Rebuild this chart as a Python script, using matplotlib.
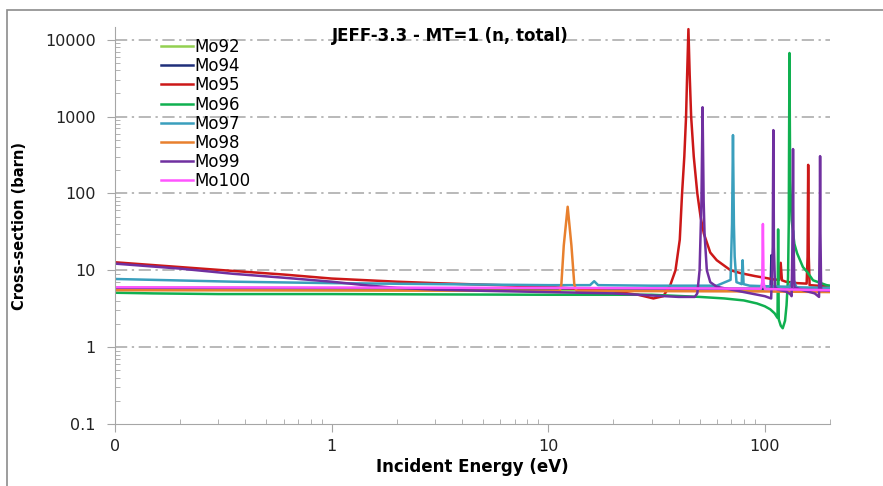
import matplotlib
matplotlib.use("Agg")
import matplotlib.pyplot as plt
from matplotlib.patches import Rectangle
from matplotlib.ticker import NullFormatter

# %% values -------------------------------------------------------------------
isotopes = ["Mo92", "Mo94", "Mo95", "Mo96", "Mo97", "Mo98", "Mo99", "Mo100"]
colors = ["#92d050", "#1f2f7a", "#cc1818", "#10b050", "#3a9fbd", "#e8802e", "#7030a0", "#ff55ff"]

e_mo92 = [0.1, 1, 10, 100, 200]
xs_mo92 = [5.6, 5.55, 5.5, 5.5, 5.6]

e_mo94 = [0.1, 1, 10, 100, 106.3, 107.3, 108.3, 200]
xs_mo94 = [5.9, 5.85, 5.8, 5.75, 5.75, 15.7, 5.75, 5.6]

e_mo95 = [0.1, 0.2, 0.35, 0.6, 1, 2, 3, 5, 10, 20, 26, 30.6, 34, 36.6, 38.7,
          40.5, 41.5, 42.5, 43.3, 43.8, 44.4, 45.0, 45.7, 47, 48.8, 50.5, 52.3,
          56, 60, 69.5, 77, 90, 102, 110, 116.5, 118.4, 120, 125, 141, 156,
          157.6, 158.6, 159.6, 161, 175, 200]
xs_mo95 = [12.7, 11.0, 9.8, 8.8, 7.8, 7.1, 6.8, 6.5, 6.1, 5.3, 4.8, 4.3, 4.6, 6.4, 10,
           25, 100, 300, 1000, 3500, 13700, 3500, 1000, 300, 100, 50, 30,
           17, 13.5, 10, 9.2, 8.4, 7.9, 7.6, 7.5, 12.5, 7.4, 7.1, 6.8, 6.7,
           15, 235, 15, 6.4, 6.3, 6.2]

e_mo96 = [0.1, 0.15, 0.3, 1, 3, 10, 30, 50, 65, 80, 92, 100, 106, 111, 114.5,
          115.2, 116, 118.5, 121, 124, 126, 128, 129, 129.5, 130, 130.5, 131,
          133, 137, 141, 150, 157, 167, 193, 200]
xs_mo96 = [5.1, 5.0, 4.9, 4.9, 4.85, 4.8, 4.8, 4.5, 4.3, 4.05, 3.7, 3.4, 3.1, 2.75, 2.4,
           34, 2.3, 1.9, 1.76, 2.2, 3.5, 8, 40, 600, 6700, 800, 150,
           45, 22, 16.6, 11, 9.5, 7.4, 6.4, 6.3]

e_mo97 = [0.1, 0.35, 1, 3, 10, 15.6, 16.3, 17.0, 30, 60, 69.5, 70.6, 71.3, 72.0,
          72.6, 74, 78.2, 79.0, 79.8, 85, 100, 130, 134.2, 135, 135.8, 140, 200]
xs_mo97 = [7.7, 7.1, 6.8, 6.6, 6.4, 6.4, 7.2, 6.4, 6.3, 6.3, 7.5, 40, 573, 40,
           15, 7.0, 6.6, 13.5, 6.6, 6.3, 6.2, 6.1, 7.5, 33, 7.5, 6.0, 5.9]

e_mo98 = [0.1, 1, 10, 11.3, 11.5, 11.8, 12.3, 12.8, 13.2, 13.5, 30, 100, 200]
xs_mo98 = [5.5, 5.45, 5.4, 5.4, 6.5, 21, 67, 21, 6.5, 5.4, 5.35, 5.3, 5.2]

e_mo99 = [0.1, 0.2, 0.35, 0.6, 1, 1.5, 2, 3, 5, 10, 20, 30, 40, 47.5, 48.8, 50,
          51, 51.6, 52.2, 52.7, 54, 56, 60, 80, 100, 107, 108.8, 109.5, 110.2,
          111.5, 115, 125, 131, 133, 134.4, 135, 135.6, 137, 150, 170, 178,
          179.3, 180, 180.7, 182, 200]
xs_mo99 = [12.2, 10.5, 9.0, 8.0, 7.1, 6.3, 5.9, 5.6, 5.4, 5.2, 5.0, 4.7, 4.5, 4.5, 5.0, 10,
           80, 1320, 80, 30, 10, 7, 6.1, 5.2, 4.6, 4.3, 20, 665, 20,
           6.0, 5.6, 5.3, 4.9, 4.6, 30, 377, 30, 6.0, 5.5, 5.0, 4.5,
           30, 305, 30, 5.5, 5.4]

e_mo100 = [0.1, 1, 10, 50, 96, 97.3, 98.0, 98.7, 100, 200]
xs_mo100 = [6.0, 5.95, 5.9, 5.8, 5.75, 7, 40, 7, 5.7, 5.5]

energies = [e_mo92, e_mo94, e_mo95, e_mo96, e_mo97, e_mo98, e_mo99, e_mo100]
sigmas = [xs_mo92, xs_mo94, xs_mo95, xs_mo96, xs_mo97, xs_mo98, xs_mo99, xs_mo100]

x_ticks = [0.1, 1, 10, 100]
x_labels = ["0", "1", "10", "100"]
y_ticks = [0.1, 1, 10, 100, 1000, 10000]
y_labels = ["0.1", "1", "10", "100", "1000", "10000"]

# %% figure ---------------------------------------------------------------------
plt.rcParams["font.family"] = ["DejaVu Sans"]
W, H = 883, 486
fig = plt.figure(figsize=(W / 100, H / 100), dpi=100)
ax = fig.add_axes([115 / W, 1 - 424 / H, (830 - 115) / W, (424 - 27) / H])

# grey frame of the chart area (cut off by the image at right/bottom)
fig.add_artist(Rectangle((7 / W, -1), 2, 1 + (1 - 10 / H), transform=fig.transFigure,
                         fill=False, ec="#8c8c8c", lw=1.2))

for name, col, e, s in zip(isotopes, colors, energies, sigmas):
    ax.plot(e, s, color=col, lw=1.8, label=name)

ax.set_xscale("log")
ax.set_yscale("log")
ax.set_xlim(0.1, 200)
ax.set_ylim(0.1, 14600)
ax.set_xticks(x_ticks, labels=x_labels)
ax.set_yticks(y_ticks, labels=y_labels)
ax.xaxis.set_minor_formatter(NullFormatter())
ax.yaxis.set_minor_formatter(NullFormatter())

grey = "#a6a6a6"
ax.yaxis.grid(True, which="major", color=grey, lw=1.1, linestyle=(0, (8, 3, 1.5, 3)))
ax.get_ygridlines()[0].set_visible(False)  # bottom one sits on the axis line
ax.set_axisbelow(True)
for sp in ["top", "right"]:
    ax.spines[sp].set_visible(False)
for sp in ["left", "bottom"]:
    ax.spines[sp].set_color(grey)
ax.tick_params(which="major", direction="out", length=6, color=grey, labelsize=11.5,
               labelcolor="#222222")
ax.tick_params(axis="y", which="major", pad=8)
ax.tick_params(axis="x", which="major", pad=5)
ax.tick_params(which="minor", direction="in", length=3.5, color=grey)

ax.set_title("JEFF-3.3 - MT=1 (n, total)", fontsize=12, fontweight="bold",
             x=(450 - 115) / (830 - 115), y=1.0, pad=-10)
ax.set_xlabel("Incident Energy (eV)", fontsize=12, fontweight="bold", labelpad=3)
ax.set_ylabel("Cross-section (barn)", fontsize=10.5, fontweight="bold")
ax.yaxis.set_label_coords((27 - 115) / (830 - 115), 0.5)

ax.legend(loc="upper left", bbox_to_anchor=(161 / W, 1 - 38 / H), bbox_transform=fig.transFigure,
          frameon=False, fontsize=12, handlelength=1.9, handletextpad=0.1,
          labelspacing=0.07, borderpad=0, borderaxespad=0)

fig.savefig("out.png", dpi=100)
